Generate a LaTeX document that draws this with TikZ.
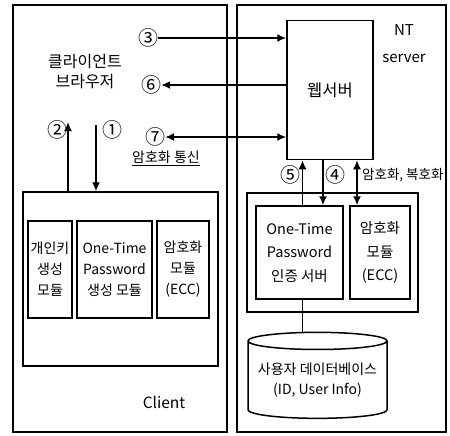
\documentclass[tikz,border=0pt]{standalone}
\usepackage{fontspec}
\setmainfont{Noto Sans CJK KR}
\usetikzlibrary{arrows.meta,shapes.geometric}
\tikzset{
  box/.style={draw,line width=1.5pt,inner sep=0pt,align=center},
  num/.style={inner sep=0pt,font=\fontsize{20}{20}\selectfont},
  lbl/.style={inner sep=0pt,align=center},
  arr/.style={line width=1.6pt,-{Latex[length=9pt,width=8pt]}},
  darr/.style={line width=1.6pt,{Latex[length=9pt,width=8pt]}-{Latex[length=9pt,width=8pt]}},
}
\begin{document}
\begin{tikzpicture}[x=1pt,y=-1pt,font=\fontsize{14}{21}\selectfont]
  \useasboundingbox (0,0) rectangle (450,436);
  \node[box,minimum width=214,minimum height=427] (client) at (120,218.5) {};
  \node[box,minimum width=209,minimum height=427] (server) at (341.5,218.5) {};
  \node[box,minimum width=86,minimum height=139,font=\fontsize{16.5}{16}\selectfont] (web) at (330,90) {웹서버};
  \node[lbl,font=\fontsize{15}{27}\selectfont] (nt) at (404,44) {NT\\server};

  \node[lbl,font=\fontsize{16}{20}\selectfont] (browser) at (85,72) {클라이언트\\브라우저};
  \node[num] (n3) at (148,38) {③};
  \node[num] (n6) at (151,85) {⑥};
  \node[num] (n7) at (155,137) {⑦};
  \node[lbl] (secure) at (166,158) {\underline{암호화 통신}};
  \draw[arr] (n3) -- (n3 -| web.west);
  \draw[arr] (n6 -| web.west) -- (n6);
  \draw[darr] (n7) -- (n7 -| web.west);

  \node[box,minimum width=195,minimum height=174] (cmod) at (120.5,279) {};
  \node[box,minimum width=44,minimum height=97] (keygen) at (50,269.5) {개인키\\생성\\모듈};
  \node[box,minimum width=75,minimum height=97] (otpgen) at (114.5,269.5) {One-Time\\Password\\생성 모듈};
  \node[box,minimum width=52,minimum height=97] (encc) at (183,269.5) {암호화\\모듈\\(ECC)};
  \coordinate (b2) at (68,122);
  \coordinate (b1) at (96,125);
  \draw[arr] (b2 |- cmod.north) -- (b2);
  \draw[arr] (b1) -- (b1 |- cmod.north);
  \node[num] (n2) at (57,130) {②};
  \node[num] (n1) at (112,130) {①};
  \node[lbl,font=\fontsize{15.5}{15}\selectfont] (clabel) at (164,402) {Client};

  \node[box,minimum width=171,minimum height=119] (smod) at (332.5,252.5) {};
  \node[box,minimum width=87,minimum height=93,font=\fontsize{14.5}{23.5}\selectfont] (otpauth) at (299.5,252.5) {One-Time\\Password\\인증 서버};
  \node[box,minimum width=60,minimum height=93,font=\fontsize{14.5}{23.5}\selectfont] (encs) at (380,252.5) {암호화\\모듈\\(ECC)};
  \draw[arr] ([xshift=3pt]otpauth.north) -- ([xshift=3pt]otpauth.north |- web.south);
  \draw[arr] ([xshift=-7pt]web.south) -- ([xshift=-7pt]web.south |- otpauth.north);
  \draw[darr] ([xshift=27pt]web.south) -- ([xshift=27pt]web.south |- encs.north);
  \node[num] (n5) at (290,175) {⑤};
  \node[num] (n4) at (335,175) {④};
  \node[lbl,anchor=west,font=\fontsize{13.5}{13}\selectfont] (encdec) at (362,175) {암호화, 복호화};

  \node[box,cylinder,shape border rotate=90,aspect=0.144,minimum width=139,minimum height=86,font=\fontsize{14}{20}\selectfont] (db) at (317.5,380) {사용자 데이터베이스\\(ID, User Info)};
  \draw[line width=1.5pt] ([xshift=3pt]otpauth.south) -- ([xshift=3pt]otpauth.south |- db.north);
\end{tikzpicture}
\end{document}
